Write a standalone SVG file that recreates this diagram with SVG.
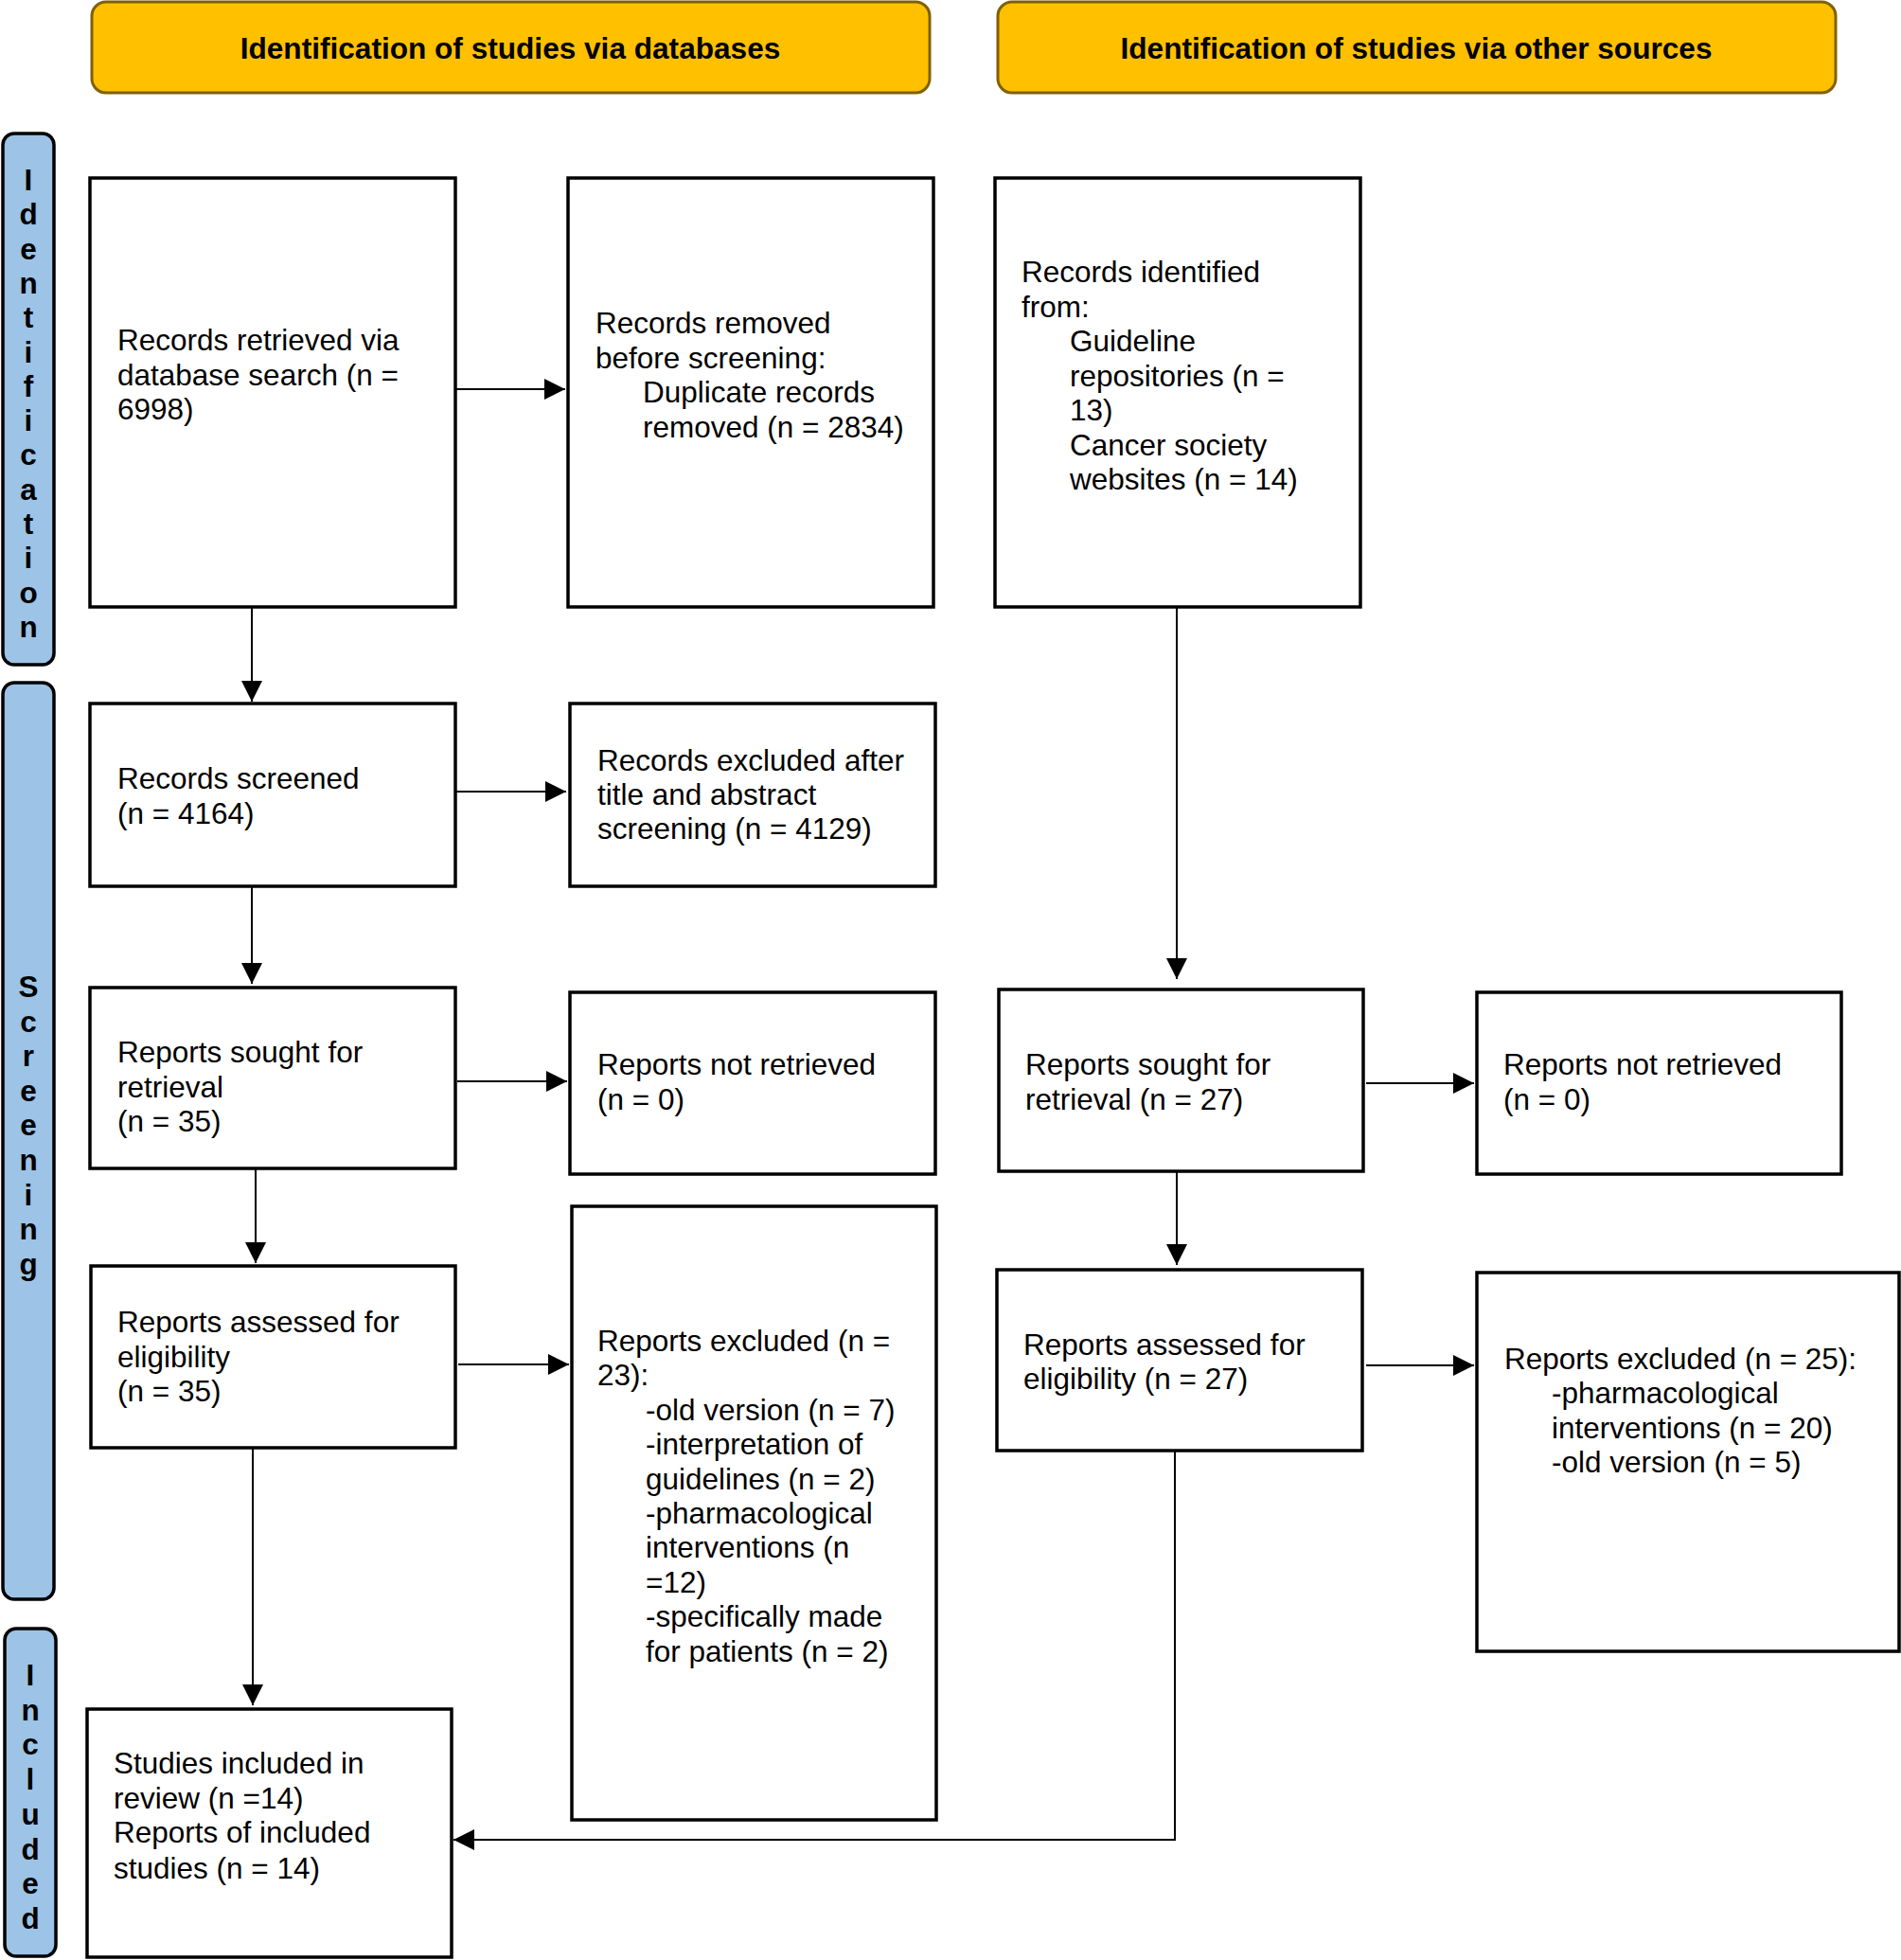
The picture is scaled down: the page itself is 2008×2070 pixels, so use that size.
<svg xmlns="http://www.w3.org/2000/svg" width="2008" height="2070" viewBox="0 0 2008 2070">
<defs>
<style>
.hdr{fill:#FFC000;stroke:#7F6000;stroke-width:3}
.bar{fill:#9DC3E6;stroke:#000;stroke-width:3.5}
.box{fill:#fff;stroke:#000;stroke-width:3.5}
.ht{font-family:"Liberation Sans",Arial,sans-serif;font-weight:bold;font-size:31.6px;fill:#000;text-anchor:middle}
.bt{font-family:"Liberation Sans",Arial,sans-serif;font-weight:bold;font-size:31.5px;fill:#000;text-anchor:middle}
.t{font-family:"Liberation Sans",Arial,sans-serif;font-size:31.5px;fill:#000}
.c{fill:none;stroke:#000;stroke-width:2}
</style>
<marker id="ah" markerUnits="userSpaceOnUse" markerWidth="22" markerHeight="22" viewBox="0 0 21 21" refX="21" refY="10.5" orient="auto">
<path d="M0,0 L21,10.5 L0,21 z" fill="#000"/>
</marker>
</defs>
<rect width="2008" height="2070" fill="#fff"/>

<g id="header-databases">
<rect class="hdr" x="97" y="2" width="885" height="96" rx="15"/>
<text class="ht" x="539" y="62">Identification of studies via databases</text>
</g>
<g id="header-other">
<rect class="hdr" x="1054" y="2" width="885" height="96" rx="15"/>
<text class="ht" x="1496" y="62">Identification of studies via other sources</text>
</g>

<g id="bar-identification">
<rect class="bar" x="3" y="141" width="54" height="561" rx="12"/>
<text class="bt"><tspan x="30" y="201">I</tspan><tspan x="30" y="237.3">d</tspan><tspan x="30" y="273.6">e</tspan><tspan x="30" y="309.9">n</tspan><tspan x="30" y="346.2">t</tspan><tspan x="30" y="382.5">i</tspan><tspan x="30" y="418.8">f</tspan><tspan x="30" y="455.1">i</tspan><tspan x="30" y="491.4">c</tspan><tspan x="30" y="527.7">a</tspan><tspan x="30" y="564">t</tspan><tspan x="30" y="600.3">i</tspan><tspan x="30" y="636.6">o</tspan><tspan x="30" y="672.9">n</tspan></text>
</g>
<g id="bar-screening">
<rect class="bar" x="3" y="721" width="54" height="968" rx="12"/>
<text class="bt"><tspan x="30" y="1053">S</tspan><tspan x="30" y="1089.6">c</tspan><tspan x="30" y="1126.2">r</tspan><tspan x="30" y="1162.8">e</tspan><tspan x="30" y="1199.4">e</tspan><tspan x="30" y="1236">n</tspan><tspan x="30" y="1272.6">i</tspan><tspan x="30" y="1309.2">n</tspan><tspan x="30" y="1345.8">g</tspan></text>
</g>
<g id="bar-included">
<rect class="bar" x="5" y="1720" width="54" height="346" rx="12"/>
<text class="bt"><tspan x="32" y="1780">I</tspan><tspan x="32" y="1816.7">n</tspan><tspan x="32" y="1853.4">c</tspan><tspan x="32" y="1890.1">l</tspan><tspan x="32" y="1926.8">u</tspan><tspan x="32" y="1963.5">d</tspan><tspan x="32" y="2000.2">e</tspan><tspan x="32" y="2036.9">d</tspan></text>
</g>

<g id="node-db-records">
<rect class="box" x="95" y="188" width="386" height="453"/>
<text class="t"><tspan x="124" y="370">Records retrieved via</tspan><tspan x="124" y="406.5">database search (n =</tspan><tspan x="124" y="443">6998)</tspan></text>
</g>
<g id="node-removed">
<rect class="box" x="600" y="188" width="386" height="453"/>
<text class="t"><tspan x="629" y="352">Records removed</tspan><tspan x="629" y="388.5">before screening:</tspan><tspan x="679" y="425">Duplicate records</tspan><tspan x="679" y="461.5">removed (n = 2834)</tspan></text>
</g>
<g id="node-other-records">
<rect class="box" x="1051" y="188" width="386" height="453"/>
<text class="t"><tspan x="1079" y="298">Records identified</tspan><tspan x="1079" y="334.5">from:</tspan><tspan x="1130" y="371">Guideline</tspan><tspan x="1130" y="407.5">repositories (n =</tspan><tspan x="1130" y="444">13)</tspan><tspan x="1130" y="480.5">Cancer society</tspan><tspan x="1130" y="517">websites (n = 14)</tspan></text>
</g>
<g id="node-screened">
<rect class="box" x="95" y="743" width="386" height="193"/>
<text class="t"><tspan x="124" y="833">Records screened</tspan><tspan x="124" y="869.5">(n = 4164)</tspan></text>
</g>
<g id="node-excluded-title">
<rect class="box" x="602" y="743" width="386" height="193"/>
<text class="t"><tspan x="631" y="814">Records excluded after</tspan><tspan x="631" y="850">title and abstract</tspan><tspan x="631" y="886">screening (n = 4129)</tspan></text>
</g>
<g id="node-sought-db">
<rect class="box" x="95" y="1043" width="386" height="191"/>
<text class="t"><tspan x="124" y="1122">Reports sought for</tspan><tspan x="124" y="1158.5">retrieval</tspan><tspan x="124" y="1195">(n = 35)</tspan></text>
</g>
<g id="node-notretrieved-db">
<rect class="box" x="602" y="1048" width="386" height="192"/>
<text class="t"><tspan x="631" y="1135">Reports not retrieved</tspan><tspan x="631" y="1171.5">(n = 0)</tspan></text>
</g>
<g id="node-assessed-db">
<rect class="box" x="96" y="1337" width="385" height="192"/>
<text class="t"><tspan x="124" y="1407">Reports assessed for</tspan><tspan x="124" y="1443.5">eligibility</tspan><tspan x="124" y="1480">(n = 35)</tspan></text>
</g>
<g id="node-excluded-db">
<rect class="box" x="604" y="1274" width="385" height="648"/>
<text class="t"><tspan x="631" y="1427">Reports excluded (n =</tspan><tspan x="631" y="1463.4">23):</tspan><tspan x="682" y="1499.8">-old version (n = 7)</tspan><tspan x="682" y="1536.2">-interpretation of</tspan><tspan x="682" y="1572.6">guidelines (n = 2)</tspan><tspan x="682" y="1609">-pharmacological</tspan><tspan x="682" y="1645.4">interventions (n</tspan><tspan x="682" y="1681.8">=12)</tspan><tspan x="682" y="1718.2">-specifically made</tspan><tspan x="682" y="1754.6">for patients (n = 2)</tspan></text>
</g>
<g id="node-included">
<rect class="box" x="92" y="1805" width="385" height="262"/>
<text class="t"><tspan x="120" y="1873">Studies included in</tspan><tspan x="120" y="1909.5">review (n =14)</tspan><tspan x="120" y="1946">Reports of included</tspan><tspan x="120" y="1984">studies (n = 14)</tspan></text>
</g>
<g id="node-sought-other">
<rect class="box" x="1055" y="1045" width="385" height="192"/>
<text class="t"><tspan x="1083" y="1135">Reports sought for</tspan><tspan x="1083" y="1171.5">retrieval (n = 27)</tspan></text>
</g>
<g id="node-notretrieved-other">
<rect class="box" x="1560" y="1048" width="385" height="192"/>
<text class="t"><tspan x="1588" y="1135">Reports not retrieved</tspan><tspan x="1588" y="1171.5">(n = 0)</tspan></text>
</g>
<g id="node-assessed-other">
<rect class="box" x="1053" y="1341" width="386" height="191"/>
<text class="t"><tspan x="1081" y="1431">Reports assessed for</tspan><tspan x="1081" y="1467">eligibility (n = 27)</tspan></text>
</g>
<g id="node-excluded-other">
<rect class="box" x="1560" y="1344" width="446" height="400"/>
<text class="t"><tspan x="1589" y="1446">Reports excluded (n = 25):</tspan><tspan x="1639" y="1482">-pharmacological</tspan><tspan x="1639" y="1518.5">interventions (n = 20)</tspan><tspan x="1639" y="1555">-old version (n = 5)</tspan></text>
</g>

<g id="connectors">
<line class="c" x1="481" y1="411" x2="597" y2="411" marker-end="url(#ah)"/>
<line class="c" x1="266" y1="641" x2="266" y2="741" marker-end="url(#ah)"/>
<line class="c" x1="481" y1="836" x2="598" y2="836" marker-end="url(#ah)"/>
<line class="c" x1="266" y1="936" x2="266" y2="1039" marker-end="url(#ah)"/>
<line class="c" x1="483" y1="1142" x2="599" y2="1142" marker-end="url(#ah)"/>
<line class="c" x1="270" y1="1234" x2="270" y2="1334" marker-end="url(#ah)"/>
<line class="c" x1="484" y1="1441" x2="601" y2="1441" marker-end="url(#ah)"/>
<line class="c" x1="267" y1="1529" x2="267" y2="1801" marker-end="url(#ah)"/>
<line class="c" x1="1243" y1="641" x2="1243" y2="1034" marker-end="url(#ah)"/>
<line class="c" x1="1443" y1="1144" x2="1557" y2="1144" marker-end="url(#ah)"/>
<line class="c" x1="1243" y1="1237" x2="1243" y2="1336" marker-end="url(#ah)"/>
<line class="c" x1="1443" y1="1442" x2="1557" y2="1442" marker-end="url(#ah)"/>
<polyline class="c" points="1241,1532 1241,1943 479,1943" marker-end="url(#ah)"/>
</g>
</svg>
